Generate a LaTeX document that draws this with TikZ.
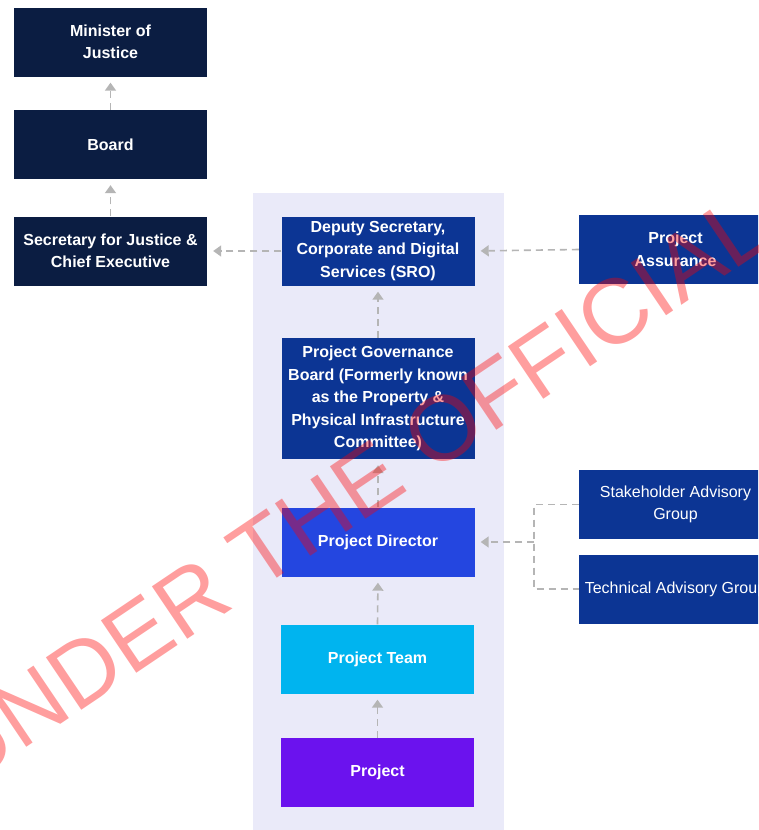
\documentclass[tikz,border=0pt]{standalone}
\usepackage{fontspec}
\setmainfont{Liberation Sans}
\usetikzlibrary{arrows.meta,positioning}
\definecolor{navy}{HTML}{0B1D42}
\definecolor{dblue}{HTML}{0C3594}
\definecolor{dirblue}{HTML}{2446E0}
\definecolor{teamcyan}{HTML}{00B4EF}
\definecolor{projpurple}{HTML}{6B12EE}
\definecolor{panelbg}{HTML}{EAEAF9}
\definecolor{conngrey}{HTML}{B5B5B5}
\tikzset{
  box/.style={draw=none, minimum width=193pt, minimum height=69pt, inner sep=0pt,
    text=white, align=center, font=\fontsize{16}{22.5}\selectfont\bfseries},
  boxreg/.style={box, font=\fontsize{16}{22.5}\selectfont},
  conn/.style={draw=conngrey, line width=1.6pt, dash pattern=on 7pt off 5pt,
    -{Triangle[width=11pt,length=8pt]}, shorten >=6pt},
  plainconn/.style={draw=conngrey, line width=1.6pt, dash pattern=on 7pt off 5pt}
}
\begin{document}
\begin{tikzpicture}[x=1pt,y=-1pt]
\useasboundingbox (0,0) rectangle (758,830);
\clip (0,0) rectangle (758,830);
\fill[white] (0,0) rectangle (758,830);
% panel
\fill[panelbg] (253,193) rectangle (504,832);
% left column
\node[box, fill=navy] (min) at (110.5,42) {Minister of\\Justice};
\node[box, fill=navy] (board) at (110.5,144.5) {Board};
\node[box, fill=navy] (sec) at (110.5,251) {Secretary for Justice \&\\Chief Executive};
% centre column
\node[box, fill=dblue] (dep) at (378,251) {Deputy Secretary,\\Corporate and Digital\\Services (SRO)};
\node[box, fill=dblue, minimum height=121pt] (pgb) at (378,398.5) {Project Governance\\Board (Formerly known\\as the Property \&\\Physical Infrastructure\\Committee)};
\node[box, fill=dirblue] (dir) at (378,542) {Project Director};
\node[box, fill=teamcyan] (team) at (377.5,659) {Project Team};
\node[box, fill=projpurple] (proj) at (377.5,772.5) {Project};
% right column
\node[box, fill=dblue] (pa) at (675.5,249.5) {Project\\Assurance};
\node[boxreg, fill=dblue] (sag) at (675.5,504.5) {Stakeholder Advisory\\Group};
\node[boxreg, fill=dblue] (tag) at (675.5,589) {Technical Advisory Group};
% connectors
\draw[conn] (board.north) -- (min.south);
\draw[conn] (sec.north) -- (board.south);
\draw[conn] (dep.west) -- (sec.east);
\draw[conn] (pa.west) -- (dep.east);
\draw[conn] (pgb.north) -- (dep.south);
\draw[conn] (dir.north) -- (pgb.south);
\draw[conn] (team.north) -- (dir.south);
\draw[conn] (proj.north) -- (team.south);
\coordinate (elbow) at (534,542);
\draw[plainconn] (sag.west) -- (sag.west -| elbow) -- (tag.west -| elbow) -- (tag.west);
\draw[conn] (elbow) -- (dir.east);
% watermark
\node[rotate=34, anchor=base west, inner sep=0pt, text=red, text opacity=0.38,
  font=\fontsize{92}{92}\selectfont] (wm) at (-35,789) {UNDER THE OFFICIAL INFORMATION};
\end{tikzpicture}
\end{document}
